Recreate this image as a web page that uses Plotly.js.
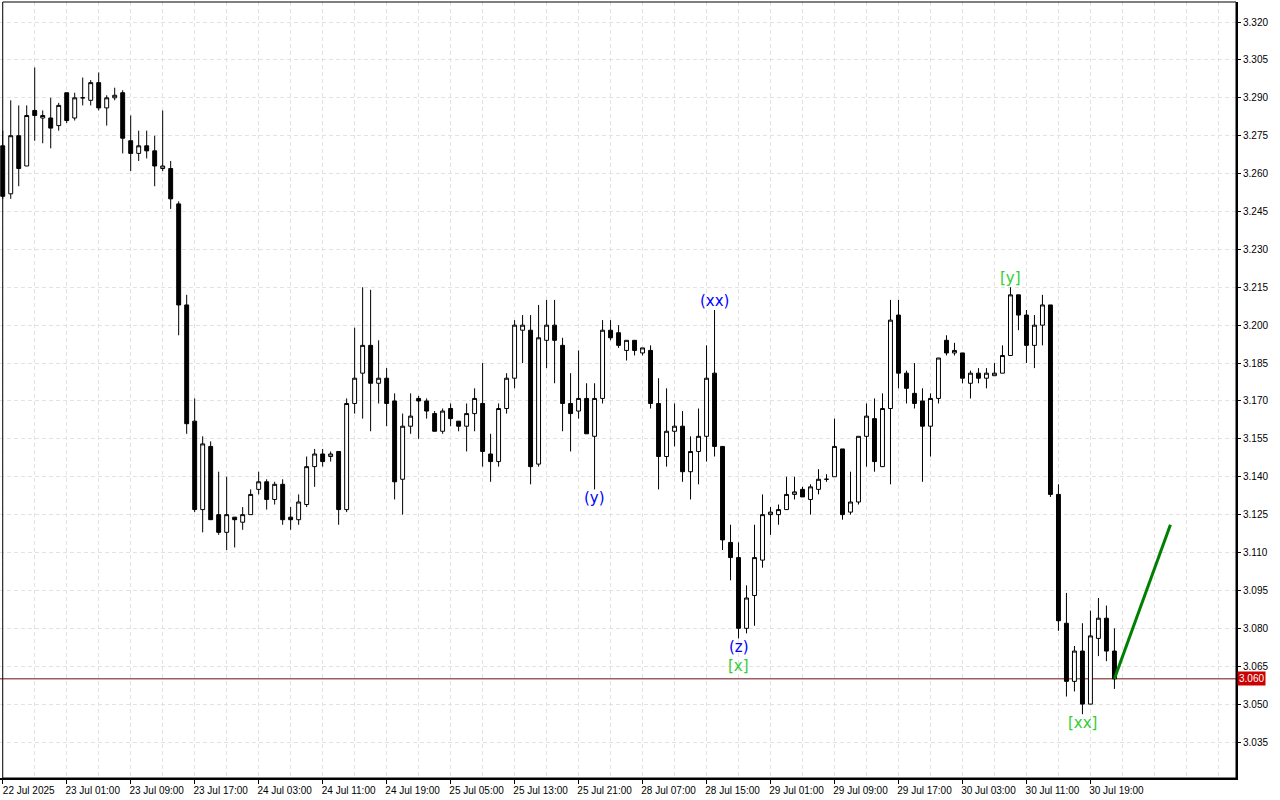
<!DOCTYPE html>
<html>
<head>
<meta charset="utf-8">
<script src="https://cdn.plot.ly/plotly-3.0.1.min.js"></script>
<style>
  html, body { margin: 0; padding: 0; background: #ffffff; }
  #chart { width: 1280px; height: 800px; }
</style>
</head>
<body>
<div id="chart"></div>
<script>
// Hourly OHLC candles (one value per candle, in order)
const openPrices = [
  3.271, 3.252, 3.275, 3.263, 3.285, 3.282, 3.282, 3.279, 3.292, 3.282,
  3.290, 3.289, 3.296, 3.286, 3.290, 3.292, 3.273, 3.268, 3.271, 3.269,
  3.262, 3.262, 3.248, 3.208, 3.162, 3.127, 3.152, 3.125, 3.118, 3.124,
  3.122, 3.125, 3.135, 3.138, 3.131, 3.137, 3.124, 3.123, 3.129, 3.144,
  3.149, 3.148, 3.150, 3.127, 3.169, 3.181, 3.192, 3.177, 3.179, 3.170,
  3.139, 3.160, 3.171, 3.170, 3.165, 3.158, 3.167, 3.162, 3.160, 3.165,
  3.169, 3.149, 3.146, 3.167, 3.179, 3.198, 3.198, 3.145, 3.194, 3.200,
  3.192, 3.169, 3.166, 3.171, 3.156, 3.171, 3.198, 3.197, 3.190, 3.194,
  3.189, 3.190, 3.169, 3.148, 3.158, 3.160, 3.142, 3.150, 3.156, 3.181,
  3.152, 3.114, 3.108, 3.080, 3.093, 3.107, 3.125, 3.125, 3.127, 3.133,
  3.135, 3.131, 3.135, 3.139, 3.140, 3.151, 3.126, 3.130, 3.156, 3.163,
  3.144, 3.167, 3.204, 3.181, 3.173, 3.170, 3.160, 3.171, 3.194, 3.189,
  3.189, 3.177, 3.181, 3.179, 3.180, 3.181, 3.188, 3.212, 3.204, 3.192,
  3.200, 3.208, 3.133, 3.082, 3.059, 3.071, 3.050, 3.076, 3.084, 3.071
];
const highPrices = [
  3.277, 3.289, 3.287, 3.287, 3.302, 3.285, 3.290, 3.288, 3.292, 3.292,
  3.298, 3.297, 3.300, 3.291, 3.294, 3.293, 3.283, 3.277, 3.277, 3.275,
  3.285, 3.265, 3.249, 3.212, 3.171, 3.156, 3.154, 3.142, 3.140, 3.124,
  3.128, 3.135, 3.142, 3.139, 3.138, 3.139, 3.128, 3.133, 3.148, 3.151,
  3.151, 3.150, 3.150, 3.171, 3.199, 3.215, 3.214, 3.194, 3.183, 3.173,
  3.165, 3.173, 3.172, 3.171, 3.166, 3.167, 3.169, 3.162, 3.169, 3.175,
  3.185, 3.157, 3.169, 3.181, 3.202, 3.204, 3.204, 3.208, 3.210, 3.210,
  3.195, 3.181, 3.190, 3.177, 3.177, 3.202, 3.202, 3.200, 3.194, 3.194,
  3.191, 3.192, 3.179, 3.175, 3.169, 3.166, 3.156, 3.167, 3.192, 3.206,
  3.152, 3.121, 3.114, 3.097, 3.121, 3.133, 3.128, 3.129, 3.140, 3.140,
  3.136, 3.137, 3.143, 3.141, 3.163, 3.151, 3.142, 3.156, 3.169, 3.171,
  3.173, 3.210, 3.210, 3.182, 3.185, 3.175, 3.173, 3.187, 3.196, 3.193,
  3.189, 3.182, 3.183, 3.183, 3.185, 3.192, 3.215, 3.212, 3.206, 3.204,
  3.212, 3.208, 3.137, 3.094, 3.073, 3.082, 3.087, 3.092, 3.089, 3.080
];
const lowPrices = [
  3.250, 3.250, 3.255, 3.263, 3.273, 3.272, 3.270, 3.277, 3.280, 3.281,
  3.287, 3.287, 3.285, 3.279, 3.289, 3.268, 3.261, 3.265, 3.266, 3.255,
  3.261, 3.246, 3.196, 3.157, 3.126, 3.118, 3.123, 3.117, 3.111, 3.112,
  3.119, 3.125, 3.133, 3.127, 3.129, 3.121, 3.119, 3.121, 3.128, 3.136,
  3.144, 3.146, 3.121, 3.126, 3.165, 3.163, 3.158, 3.169, 3.160, 3.131,
  3.125, 3.157, 3.155, 3.163, 3.158, 3.157, 3.160, 3.158, 3.150, 3.158,
  3.144, 3.138, 3.144, 3.165, 3.175, 3.185, 3.137, 3.144, 3.183, 3.177,
  3.158, 3.150, 3.163, 3.157, 3.135, 3.169, 3.194, 3.191, 3.186, 3.188,
  3.188, 3.167, 3.135, 3.144, 3.152, 3.138, 3.131, 3.137, 3.146, 3.148,
  3.111, 3.099, 3.076, 3.078, 3.081, 3.104, 3.117, 3.121, 3.127, 3.131,
  3.132, 3.125, 3.133, 3.138, 3.140, 3.123, 3.125, 3.129, 3.144, 3.142,
  3.144, 3.137, 3.175, 3.169, 3.167, 3.138, 3.148, 3.169, 3.188, 3.188,
  3.177, 3.171, 3.177, 3.175, 3.180, 3.181, 3.188, 3.198, 3.185, 3.183,
  3.192, 3.132, 3.079, 3.053, 3.055, 3.046, 3.050, 3.069, 3.067, 3.056
];
const closePrices = [
  3.251, 3.275, 3.262, 3.283, 3.283, 3.283, 3.278, 3.287, 3.281, 3.290,
  3.290, 3.296, 3.286, 3.290, 3.291, 3.274, 3.268, 3.271, 3.269, 3.263,
  3.263, 3.250, 3.208, 3.161, 3.127, 3.153, 3.123, 3.118, 3.125, 3.123,
  3.125, 3.133, 3.138, 3.131, 3.137, 3.123, 3.123, 3.130, 3.144, 3.149,
  3.146, 3.149, 3.127, 3.169, 3.179, 3.192, 3.177, 3.179, 3.169, 3.138,
  3.160, 3.164, 3.170, 3.166, 3.158, 3.166, 3.163, 3.160, 3.165, 3.171,
  3.150, 3.146, 3.167, 3.179, 3.200, 3.200, 3.144, 3.195, 3.200, 3.194,
  3.169, 3.165, 3.171, 3.157, 3.171, 3.198, 3.195, 3.192, 3.194, 3.190,
  3.191, 3.169, 3.148, 3.158, 3.160, 3.142, 3.150, 3.156, 3.179, 3.152,
  3.115, 3.108, 3.080, 3.092, 3.108, 3.125, 3.126, 3.127, 3.133, 3.134,
  3.132, 3.136, 3.139, 3.139, 3.152, 3.125, 3.130, 3.156, 3.164, 3.146,
  3.167, 3.202, 3.181, 3.175, 3.169, 3.160, 3.171, 3.187, 3.189, 3.190,
  3.179, 3.181, 3.179, 3.181, 3.181, 3.188, 3.212, 3.204, 3.192, 3.200,
  3.208, 3.133, 3.083, 3.059, 3.071, 3.050, 3.077, 3.084, 3.071, 3.060
];

// Time-axis labels (one every 8 candles, starting at the first candle)
const timeLabels = [
  "22 Jul 2025", "23 Jul 01:00", "23 Jul 09:00", "23 Jul 17:00", "24 Jul 03:00",
  "24 Jul 11:00", "24 Jul 19:00", "25 Jul 05:00", "25 Jul 13:00", "25 Jul 21:00",
  "28 Jul 07:00", "28 Jul 15:00", "29 Jul 01:00", "29 Jul 09:00", "29 Jul 17:00",
  "30 Jul 03:00", "30 Jul 11:00", "30 Jul 19:00"
];
const labelEvery = 8;

// Current price
const currentPrice = 3.060;

// Projection line (candle index, price)
const projectionIndex = [139, 146];
const projectionPrice = [3.060, 3.121];

// Wave labels
const waveText   = ["(y)", "(xx)", "(z)", "[x]", "[y]", "[xx]"];
const waveCandle = [74, 89, 92, 92, 126, 135];
const waveSide   = ["low", "high", "low", "low", "high", "low"];
const waveStack  = [0, 0, 0, 1, 0, 0];
const waveColor  = ["#0000ff", "#0000ff", "#0000ff", "#32cd32", "#32cd32", "#32cd32"];

const candleIndex = openPrices.map((_, i) => i);
const tickVals = timeLabels.map((_, i) => i * labelEvery);

const axisFont = { family: "Liberation Sans, Arial, sans-serif", size: 10, color: "#000000" };
const gridColor = "#e2e2e2";
const gridDash = "4px,3px";

const traces = [
  {
    type: "candlestick",
    x: candleIndex,
    open: openPrices,
    high: highPrices,
    low: lowPrices,
    close: closePrices,
    increasing: { line: { color: "#000000", width: 1 }, fillcolor: "#ffffff" },
    decreasing: { line: { color: "#000000", width: 1 }, fillcolor: "#000000" },
    whiskerwidth: 0,
    hoverinfo: "skip",
    showlegend: false
  },
  {
    type: "scatter",
    mode: "lines",
    x: projectionIndex,
    y: projectionPrice,
    line: { color: "#008000", width: 3 },
    hoverinfo: "skip",
    showlegend: false
  }
];

const annotations = waveText.map((t, k) => {
  const i = waveCandle[k];
  const isHigh = waveSide[k] === "high";
  return {
    x: i,
    y: isHigh ? highPrices[i] : lowPrices[i],
    xref: "x", yref: "y",
    text: t,
    showarrow: false,
    xanchor: "center",
    yanchor: isHigh ? "bottom" : "top",
    yshift: isHigh ? -2 : (2 - waveStack[k] * 19),
    font: { family: "DejaVu Sans, sans-serif", size: 15, color: waveColor[k] }
  };
});
annotations.push({
  x: 1, xref: "paper", xanchor: "left", xshift: 1,
  y: currentPrice, yref: "y", yanchor: "middle",
  text: currentPrice.toFixed(3),
  showarrow: false,
  bgcolor: "#cc0000",
  borderpad: 1,
  font: { family: axisFont.family, size: 10, color: "#ffffff" }
});

const layout = {
  width: 1280,
  height: 800,
  margin: { l: 0, r: 44, t: 2, b: 22, pad: 0 },
  paper_bgcolor: "#ffffff",
  plot_bgcolor: "#ffffff",
  showlegend: false,
  xaxis: {
    type: "linear",
    range: [-0.34, 154.2],
    tickmode: "array",
    tickvals: tickVals,
    ticktext: timeLabels,
    ticks: "outside",
    ticklen: 4,
    tickcolor: "#000000",
    tickfont: axisFont,
    ticklabelshift: 26,
    ticklabelstandoff: -2,
    ticklabeloverflow: "allow",
    showgrid: true,
    gridcolor: gridColor,
    griddash: gridDash,
    minor: { tickmode: "linear", tick0: 0, dtick: 4, showgrid: true, gridcolor: gridColor, griddash: gridDash, ticks: "" },
    showline: true,
    linecolor: "#000000",
    linewidth: 2,
    zeroline: false,
    rangeslider: { visible: false },
    fixedrange: true
  },
  yaxis: {
    side: "right",
    range: [3.02075, 3.32792],
    tickmode: "linear",
    tick0: 3.035,
    dtick: 0.015,
    tickformat: ".3f",
    ticks: "outside",
    ticklen: 3,
    tickcolor: "#000000",
    tickfont: axisFont,
    showgrid: true,
    gridcolor: gridColor,
    griddash: gridDash,
    showline: true,
    linecolor: "#000000",
    linewidth: 2,
    zeroline: false,
    fixedrange: true
  },
  shapes: [
    {
      type: "rect", xref: "paper", yref: "paper",
      x0: 0.0022, x1: 1, y0: 0, y1: 1,
      line: { color: "#000000", width: 1 },
      fillcolor: "rgba(0,0,0,0)",
      layer: "above"
    },
    {
      type: "line", xref: "paper", yref: "y",
      x0: 0, x1: 1, y0: currentPrice, y1: currentPrice,
      line: { color: "#6e1010", width: 1 },
      layer: "below"
    }
  ],
  annotations: annotations
};

Plotly.newPlot("chart", traces, layout, { staticPlot: true, displayModeBar: false });
</script>
</body>
</html>
